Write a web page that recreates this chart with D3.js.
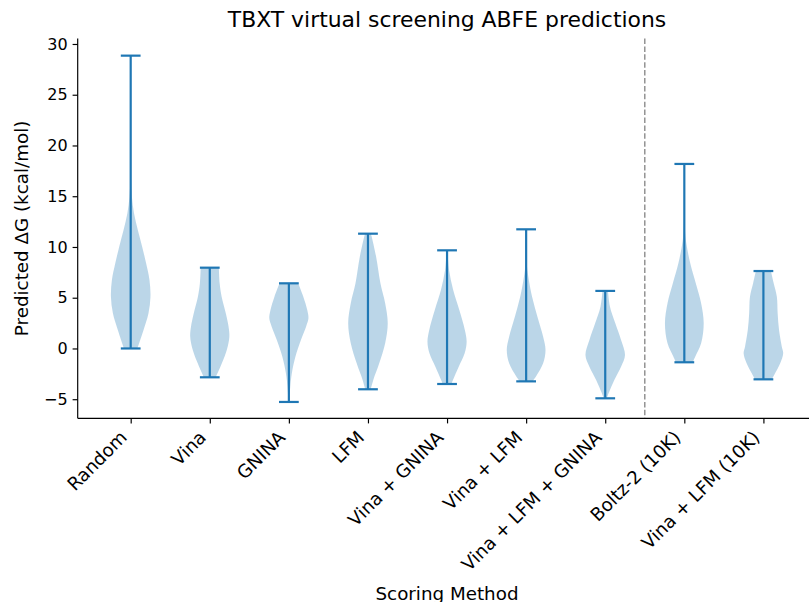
<!DOCTYPE html>
<html>
<head>
<meta charset="utf-8">
<script src="https://cdn.jsdelivr.net/npm/d3@7"></script>
<style>
  body { margin: 0; background: #fff; }
  text { font-family: "DejaVu Sans", sans-serif; fill: #000; }
</style>
</head>
<body>
<svg id="chart" width="809" height="602"></svg>
<script>
const categories = ["Random", "Vina", "GNINA", "LFM", "Vina + GNINA", "Vina + LFM",
  "Vina + LFM + GNINA", "Boltz-2 (10K)", "Vina + LFM (10K)"];
const positions = [1, 2, 3, 4, 5, 6, 7, 8, 9];
const mins = [0.0, -2.84, -5.27, -4.02, -3.5, -3.24, -4.91, -1.36, -3.04];
const maxs = [28.85, 7.96, 6.42, 11.31, 9.67, 11.74, 5.67, 18.18, 7.63];
const yTicks = [-5, 0, 5, 10, 15, 20, 25, 30];
const separatorAt = 7.5;

// density profiles: [value, relative half-width]
const kdeRandom = [[0, 0.34], [1.82, 0.65], [3.47, 0.9], [5.1, 1.0], [6.75, 0.95], [8.39, 0.78], [10.03, 0.58], [11.67, 0.36], [13.3, 0.17], [14.96, 0.06], [16.6, 0.02], [18.2, 0.005], [22, 0.001], [28.85, 0]];
const kdeVina = [[-2.84, 0.3], [-1.46, 0.61], [-0.15, 0.86], [1.16, 0.99], [2.15, 0.95], [3.47, 0.81], [5.1, 0.6], [6.42, 0.5], [7.96, 0.46]];
const kdeGnina = [[-5.27, 0.02], [-3.76, 0.07], [-2.44, 0.15], [-0.81, 0.33], [0.84, 0.61], [2.15, 0.87], [2.97, 0.99], [3.79, 0.93], [5.1, 0.73], [6.42, 0.47]];
const kdeLfm = [[-4.02, 0.14], [-3.1, 0.27], [-1.46, 0.57], [0.51, 0.87], [2.48, 1.0], [4.45, 0.87], [6.42, 0.63], [9.05, 0.41], [11.0, 0.19], [11.31, 0.15]];
const kdeVinaGnina = [[-3.5, 0.22], [-3.1, 0.3], [-1.79, 0.59], [-0.47, 0.89], [0.67, 0.99], [1.82, 0.9], [3.79, 0.62], [5.76, 0.31], [7.73, 0.1], [9.67, 0.02]];
const kdeVinaLfm = [[-3.24, 0.32], [-2.78, 0.49], [-1.46, 0.86], [-0.15, 0.98], [1.16, 0.86], [3.13, 0.57], [5.1, 0.3], [7.07, 0.11], [8.39, 0.03], [11.74, 0]];
const kdeVinaLfmGnina = [[-4.91, 0.08], [-4.41, 0.17], [-3.1, 0.46], [-1.79, 0.8], [-0.64, 1.0], [0.84, 0.8], [2.48, 0.51], [4.12, 0.24], [5.67, 0.14]];
const kdeBoltz = [[-1.36, 0.42], [-0.81, 0.55], [0.51, 0.85], [2.48, 0.98], [4.45, 0.85], [6.42, 0.58], [8.39, 0.3], [10.03, 0.13], [11.0, 0.06], [13, 0.015], [18.18, 0]];
const kdeVinaLfm10k = [[-3.04, 0.42], [-2.44, 0.59], [-1.46, 0.85], [-0.47, 1.0], [0.18, 0.93], [1.82, 0.79], [3.47, 0.72], [5.1, 0.68], [6.42, 0.52], [7.63, 0.38]];
const profiles = [kdeRandom, kdeVina, kdeGnina, kdeLfm, kdeVinaGnina, kdeVinaLfm, kdeVinaLfmGnina, kdeBoltz, kdeVinaLfm10k];

const svg = d3.select("#chart");
const L = 77.7, R = 816.4, T = 38.5, B = 418.3;
const C0 = "#1f77b4";

const x = d3.scaleLinear().domain([0.33, 9.67]).range([L, R]);
const y = d3.scaleLinear().domain([-6.88, 30.54]).range([B, T]);
const halfW = 0.25; // max half-width in data units
const wScale = d3.scaleLinear().domain([0, 1]).range([0, x(1 + halfW) - x(1)]);
const capHalf = x(1.125) - x(1);

// violins
const area = d3.area()
  .curve(d3.curveCatmullRom)
  .y(d => y(d[0]));

profiles.forEach((prof, i) => {
  const cx = x(positions[i]);
  svg.append("path")
    .datum(prof)
    .attr("d", area.x0(d => cx - wScale(d[1])).x1(d => cx + wScale(d[1])))
    .attr("fill", C0)
    .attr("fill-opacity", 0.3)
    .attr("stroke", "none");
});

// bars & caps
const g = svg.append("g").attr("stroke", C0).attr("stroke-width", 2.2);
positions.forEach((p, i) => {
  const cx = x(p);
  g.append("line").attr("x1", cx).attr("x2", cx).attr("y1", y(mins[i])).attr("y2", y(maxs[i]));
  g.append("line").attr("x1", cx - capHalf).attr("x2", cx + capHalf).attr("y1", y(mins[i])).attr("y2", y(mins[i]));
  g.append("line").attr("x1", cx - capHalf).attr("x2", cx + capHalf).attr("y1", y(maxs[i])).attr("y2", y(maxs[i]));
});

// separator
svg.append("line")
  .attr("x1", x(separatorAt)).attr("x2", x(separatorAt))
  .attr("y1", T).attr("y2", B)
  .attr("stroke", "#808080").attr("stroke-opacity", 0.85)
  .attr("stroke-width", 1.5).attr("stroke-dasharray", "5.5,2.4");

// y axis
const yAxis = d3.axisLeft(y).tickValues(yTicks).tickSize(5.1).tickPadding(5);
const ya = svg.append("g").attr("transform", `translate(${L},0)`).call(yAxis);
ya.select(".domain").attr("d", `M0,${B}V${T}`).attr("stroke-width", 1.17);
ya.selectAll(".tick line").attr("stroke-width", 1.17);
ya.selectAll(".tick text").style("font-size", "16px").style("font-family", "DejaVu Sans").attr("fill", "#000");

// x axis
const xAxis = d3.axisBottom(x).tickValues(positions).tickSize(5.1).tickFormat((d, i) => categories[i]);
const xa = svg.append("g").attr("transform", `translate(0,${B})`).call(xAxis);
xa.select(".domain").attr("d", `M${L},0H${R}`).attr("stroke-width", 1.17);
xa.selectAll(".tick line").attr("stroke-width", 1.17);
const fx = 18.2;
xa.selectAll(".tick text")
  .style("font-size", fx + "px").style("font-family", "DejaVu Sans").attr("fill", "#000")
  .attr("text-anchor", "end")
  .attr("dy", null)
  .attr("y", null)
  .attr("transform", `translate(${-0.707 * 0.236 * fx},${10.5 + 0.707 * 0.76 * fx}) rotate(-45)`);

// titles
svg.append("text").attr("x", 447).attr("y", 26.5).attr("text-anchor", "middle")
  .style("font-size", "21.9px").text("TBXT virtual screening ABFE predictions");
svg.append("text").attr("x", 447).attr("y", 599.5).attr("text-anchor", "middle")
  .style("font-size", "18.3px").text("Scoring Method");
svg.append("text").attr("transform", `translate(27.5,${(T + B) / 2}) rotate(-90)`).attr("text-anchor", "middle")
  .style("font-size", "18.3px").text("Predicted ΔG (kcal/mol)");
</script>
</body>
</html>
